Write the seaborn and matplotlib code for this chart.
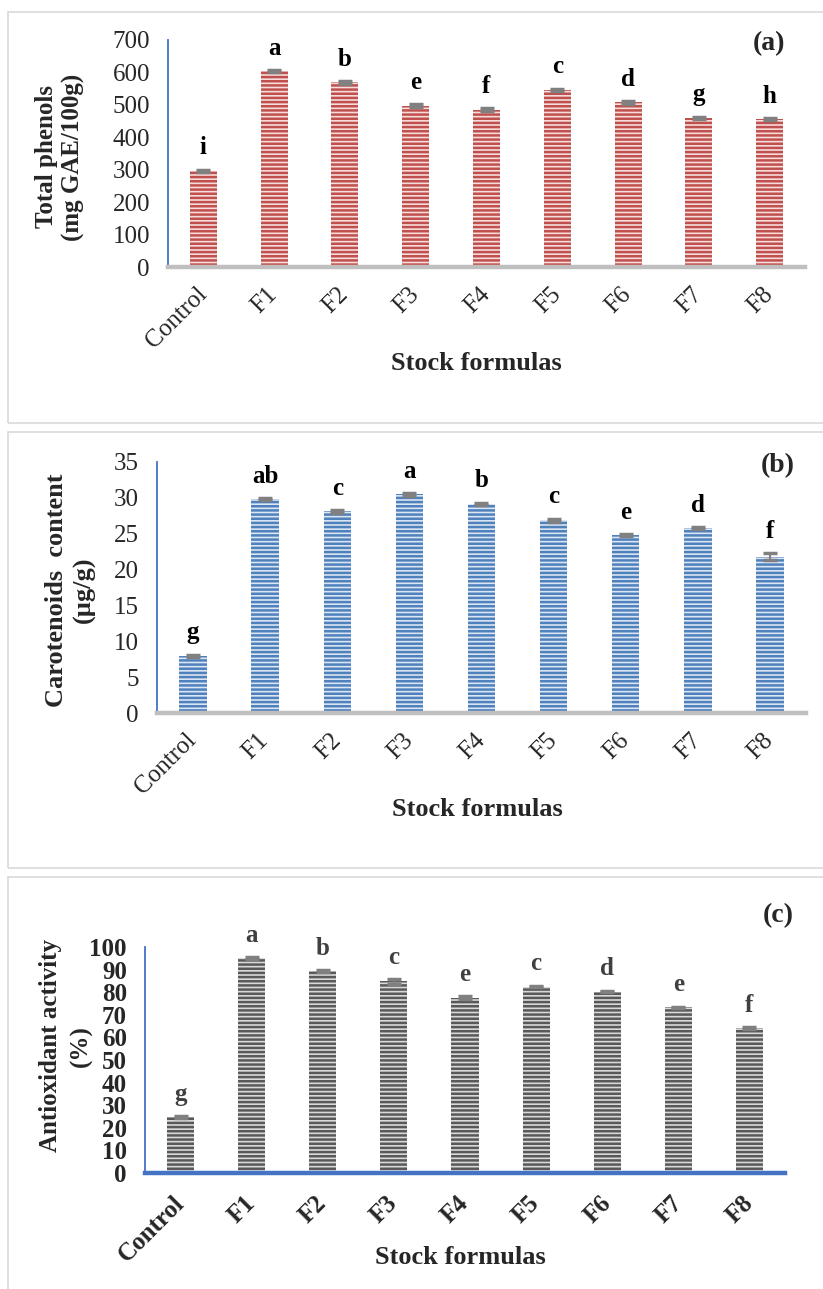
import numpy as np
import matplotlib
matplotlib.use("Agg")
import matplotlib.pyplot as plt
from matplotlib.patches import Rectangle
import seaborn as sns

# ---- data ----
formulas = ["Control", "F1", "F2", "F3", "F4", "F5", "F6", "F7", "F8"]

phenols = [296, 604, 569, 498, 485, 546, 508, 460, 455]
phenols_err = [4, 4, 4, 4, 4, 4, 4, 4, 3]
phenols_letters = ["i", "a", "b", "e", "f", "c", "d", "g", "h"]

carot = [8.0, 29.8, 28.1, 30.5, 29.2, 26.9, 24.8, 25.8, 21.8]
carot_err = [0.15, 0.15, 0.15, 0.2, 0.15, 0.2, 0.15, 0.15, 0.5]
carot_letters = ["g", "ab", "c", "a", "b", "c", "e", "d", "f"]

antiox = [24.8, 95.2, 89.5, 84.8, 77.5, 82.5, 80.3, 73.3, 64.2]
antiox_err = [0.5, 0.4, 0.4, 1.0, 0.6, 0.4, 0.4, 0.3, 0.3]
antiox_letters = ["g", "a", "b", "c", "e", "c", "d", "e", "f"]

W, H = 823, 1289

sns.set_theme(style="white")
plt.rcParams["font.family"] = ["Liberation Serif", "DejaVu Serif"]
plt.rcParams["hatch.linewidth"] = 1.8

fig = plt.figure(figsize=(W / 100, H / 100), dpi=100)


def px_axes(left, top, right, bottom):
    return [left / W, 1 - bottom / H, (right - left) / W, (bottom - top) / H]


def panel_box(top, bottom):
    fig.patches.append(Rectangle((8 / W, 1 - bottom / H), 1.0, (bottom - top) / H,
                                 transform=fig.transFigure, fill=False,
                                 edgecolor="#d9d9d9", linewidth=1.2))


def draw_panel(rect, values, errs, letters, ymax, ystep, face, stripe,
               bold_ticks, left_color, bottom_color, letter_color, xpad):
    ax = fig.add_axes(rect)
    sns.barplot(x=formulas, y=values, color=stripe, width=0.38,
                errorbar=None, ax=ax)
    for p in ax.patches:
        p.set_facecolor(face)
        p.set_edgecolor(stripe)
        p.set_hatch("----")
        p.set_linewidth(0)
    ax.errorbar(np.arange(len(formulas)), values, yerr=errs, fmt="none",
                ecolor="#808080", elinewidth=1.5, capsize=5, capthick=2.5, zorder=3)
    for i, (v, e, lab) in enumerate(zip(values, errs, letters)):
        ax.annotate(lab, (i, v + e), xytext=(0, 11), textcoords="offset points",
                    ha="center", va="baseline", fontsize=18, fontweight="bold",
                    color=letter_color)
    ax.set_xlim(-0.5, len(formulas) - 0.5)
    ax.set_ylim(0, ymax)
    ax.set_yticks(np.arange(0, ymax + ystep / 2, ystep))
    ax.set_xlabel("")
    ax.set_ylabel("")
    weight = "bold" if bold_ticks else "normal"
    ax.tick_params(axis="both", length=0)
    ax.tick_params(axis="y", pad=13)
    ax.tick_params(axis="x", pad=xpad)
    for t in ax.get_yticklabels():
        t.set_fontsize(18)
        t.set_fontweight(weight)
    ax.set_xticks(range(len(formulas)))
    ax.set_xticklabels(formulas, rotation=45, ha="right", va="center",
                       rotation_mode="anchor", fontsize=18, fontweight=weight)
    for s in ["top", "right"]:
        ax.spines[s].set_visible(False)
    ax.spines["left"].set_color(left_color)
    ax.spines["left"].set_linewidth(1.3)
    ax.spines["bottom"].set_color(bottom_color)
    ax.spines["bottom"].set_linewidth(3.2)
    ax.set_facecolor("none")
    return ax


# panel (a)
panel_box(12, 423)
draw_panel(px_axes(168, 40, 805, 267), phenols, phenols_err, phenols_letters,
           700, 100, "#f6dcdb", "#c0504d", False, "#4472c4", "#bfbfbf", "black", 17)
fig.text(60 / W, 1 - 157 / H, "Total phenols\n(mg GAE/100g)", rotation=90,
         ha="center", va="center", fontsize=18, fontweight="bold",
         linespacing=1.15, multialignment="center")
fig.text(476 / W, 1 - 364 / H, "Stock formulas", ha="center", va="center",
         fontsize=19, fontweight="bold")
fig.text(769 / W, 1 - 44 / H, "(a)", ha="center", va="center",
         fontsize=20, fontweight="bold")

# panel (b)
panel_box(432, 868)
draw_panel(px_axes(157, 462, 806, 713), carot, carot_err, carot_letters,
           35, 5, "#dbe5f3", "#4f81bd", False, "#4472c4", "#bfbfbf", "black", 17)
fig.text(70 / W, 1 - 590 / H, "Carotenoids  content\n(\u00b5g/g)", rotation=90,
         ha="center", va="center", fontsize=19, fontweight="bold",
         linespacing=1.25, multialignment="center")
fig.text(477 / W, 1 - 810 / H, "Stock formulas", ha="center", va="center",
         fontsize=19, fontweight="bold")
fig.text(778 / W, 1 - 466 / H, "(b)", ha="center", va="center",
         fontsize=20, fontweight="bold")

# panel (c)
panel_box(877, 1300)
draw_panel(px_axes(145, 947, 785, 1173), antiox, antiox_err, antiox_letters,
           100, 10, "#d9d9d9", "#595959", True, "#4472c4", "#4472c4", "#404040", 19)
fig.text(66 / W, 1 - 1046 / H, "Antioxidant activity\n(%)", rotation=90,
         ha="center", va="center", fontsize=18, fontweight="bold",
         linespacing=1.45, multialignment="center")
fig.text(460 / W, 1 - 1258 / H, "Stock formulas", ha="center", va="center",
         fontsize=19, fontweight="bold")
fig.text(778 / W, 1 - 916 / H, "(c)", ha="center", va="center",
         fontsize=20, fontweight="bold")

fig.savefig("out.png", dpi=100, facecolor="white")
